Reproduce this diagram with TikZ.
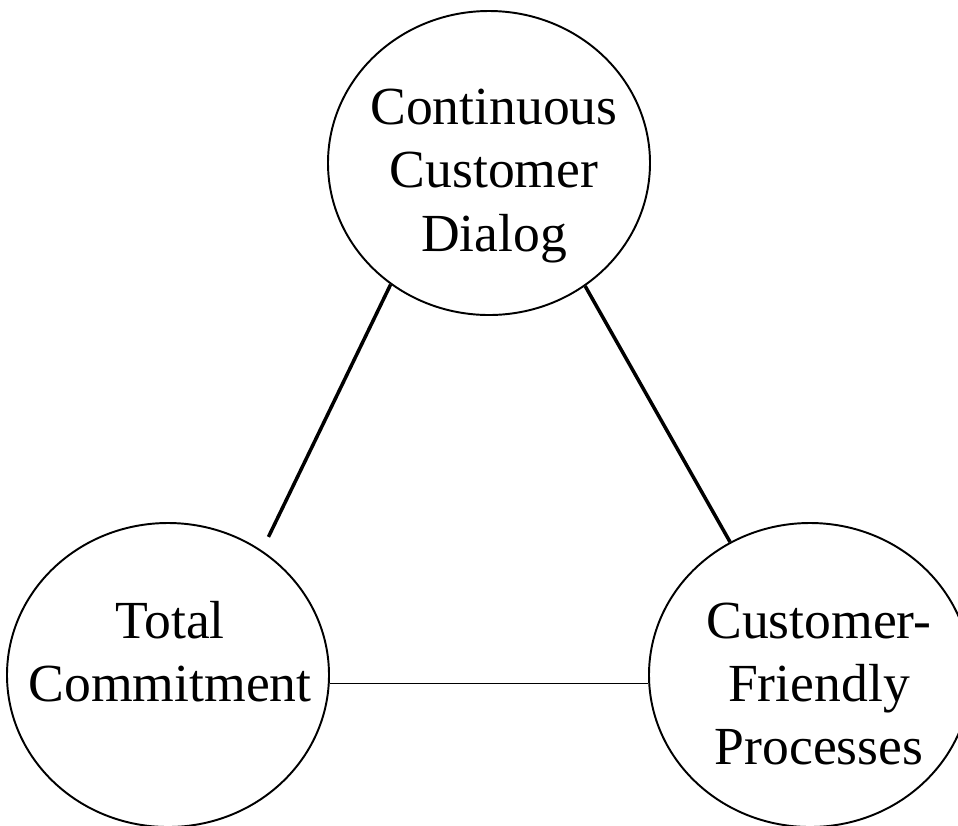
\documentclass[tikz,border=0pt]{standalone}
\usepackage{fontspec}
\setmainfont{Liberation Serif}
\usetikzlibrary{%
  arrows,%
  shapes,%
  shapes.geometric,% wg. ellipse
  positioning,%
  calc%
}

\tikzset{
  bubble/.style={draw, ellipse, line width=1.1pt, inner sep=0pt,
    minimum width=6.44cm, minimum height=6.08cm},
  bubbletext/.style={align=center, inner sep=0pt,
    font=\fontsize{30.5}{36}\selectfont},
  spoke/.style={line width=2pt},
  base/.style={line width=0.8pt}
}

\begin{document}
\begin{tikzpicture}[>=stealth']

\useasboundingbox (0,0) rectangle (19.16,-16.5);

% --------
\node[bubble] (dialog) at (9.78,-3.26) {};
\node[bubbletext] (dialog-text) at (9.88,-3.52) {Continuous\\Customer\\Dialog};

% --------
\node[bubble] (commit) at (3.36,-13.5) {};
\node[bubbletext] (commit-text) at (3.40,-13.04) {Total\\Commitment};

% --------
\node[bubble] (process) at (16.2,-13.5) {};
\node[bubbletext] (process-text) at (16.38,-13.68) {Customer-\\Friendly\\Processes};

% --------
\draw[spoke, shorten >=0.3cm] (dialog.231.4) -- (commit.53);
\draw[spoke] (dialog.308.6) -- (process.121.4);
\draw[base] (commit.-3.2) -- (process.183.2);

\end{tikzpicture}
\end{document}
